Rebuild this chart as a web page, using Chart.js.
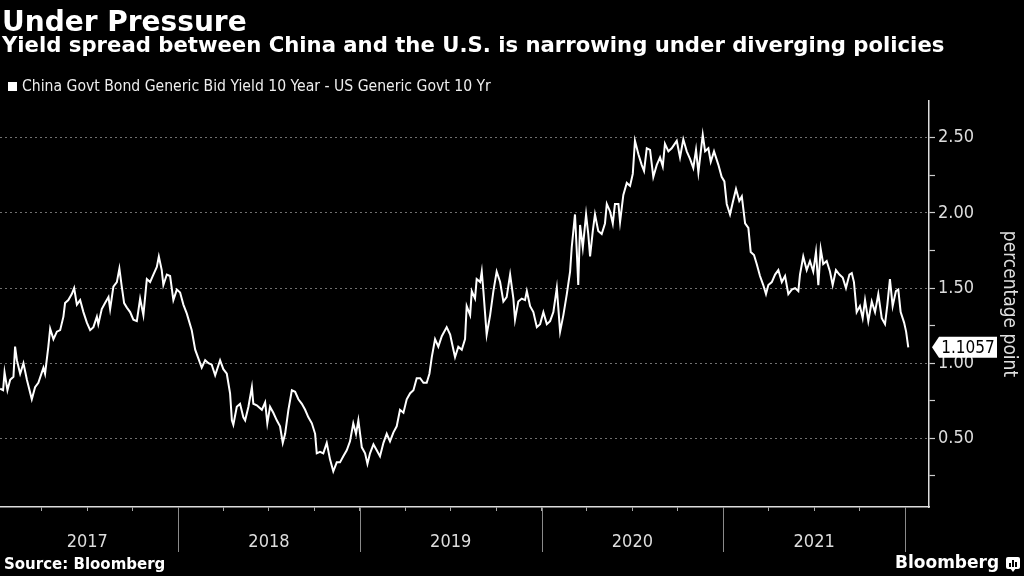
<!DOCTYPE html>
<html><head><meta charset="utf-8">
<script src="https://cdn.jsdelivr.net/npm/chart.js@4.4.1/dist/chart.umd.min.js"></script>
<style>
html,body{margin:0;padding:0;background:#000;width:1024px;height:576px;overflow:hidden;}
#wrap{position:relative;width:1024px;height:576px;background:#000;}
canvas{position:absolute;left:0;top:0;}
.t{position:absolute;color:#fff;white-space:nowrap;line-height:1;}
#title{left:2px;top:8px;font-weight:bold;font-size:28px;font-family:"DejaVu Sans";}
#sub{left:2px;top:34px;font-weight:bold;font-size:21.2px;font-family:"DejaVu Sans";}
#leg{left:22px;top:79px;font-size:15.6px;font-family:"DejaVu Sans Condensed";color:#eee;}
#legsq{position:absolute;left:8px;top:82px;width:9px;height:9px;background:#fff;}
#src{left:4px;top:557px;font-weight:bold;font-size:15px;font-family:"DejaVu Sans";}
#bb{left:895px;top:554px;font-weight:bold;font-size:17px;font-family:"DejaVu Sans";}
#icon{position:absolute;left:1006px;top:557px;width:14px;height:12px;background:#fff;border-radius:2px;}
#icon i{position:absolute;bottom:2px;width:2px;background:#000;}
#tail{position:absolute;left:1010px;top:568px;width:0;height:0;border-left:3px solid transparent;border-right:3px solid transparent;border-top:4px solid #fff;}
</style>
</head>
<body>
<div id="wrap">
<canvas id="c" width="1024" height="576"></canvas>
<div class="t" id="title">Under Pressure</div>
<div class="t" id="sub">Yield spread between China and the U.S. is narrowing under diverging policies</div>
<div id="legsq"></div>
<div class="t" id="leg">China Govt Bond Generic Bid Yield 10 Year - US Generic Govt 10 Yr</div>
<div class="t" id="src">Source: Bloomberg</div>
<div class="t" id="bb">Bloomberg</div>
<div id="icon"><i style="left:3px;height:4px"></i><i style="left:6px;height:7px"></i><i style="left:9px;height:5px"></i></div>
<div id="tail"></div>
</div>
<script>
// ---- data (decimal year, percentage points) ----
const dates = [
2017.021,2017.037,2017.045,2017.061,2017.076,2017.094,2017.103,2017.113,2017.131,2017.149,2017.168,2017.195,2017.213,2017.231,2017.259,2017.268,2017.286,2017.296,2017.314,2017.333,2017.351,2017.369,2017.378,2017.396,2017.415,2017.428,2017.443,2017.461,2017.479,2017.498,2017.516,2017.534,2017.553,2017.561,2017.580,2017.598,2017.617,2017.626,2017.644,2017.663,2017.677,2017.690,2017.703,2017.718,2017.736,2017.754,2017.773,2017.791,2017.809,2017.828,2017.846,2017.864,2017.883,2017.894,2017.910,2017.919,2017.938,2017.956,2017.974,2017.993,
2018.011,2018.029,2018.048,2018.075,2018.094,2018.112,2018.130,2018.149,2018.167,2018.185,2018.204,2018.231,2018.249,2018.268,2018.286,2018.296,2018.304,2018.323,2018.341,2018.359,2018.369,2018.387,2018.406,2018.414,2018.433,2018.461,2018.479,2018.491,2018.506,2018.524,2018.543,2018.561,2018.576,2018.589,2018.607,2018.626,2018.644,2018.662,2018.681,2018.699,2018.717,2018.736,2018.754,2018.763,2018.781,2018.799,2018.818,2018.836,2018.854,2018.873,2018.891,2018.909,2018.928,2018.946,2018.964,2018.979,2018.992,
2019.011,2019.029,2019.042,2019.056,2019.075,2019.093,2019.111,2019.130,2019.148,2019.166,2019.185,2019.203,2019.221,2019.240,2019.258,2019.277,2019.295,2019.313,2019.332,2019.350,2019.368,2019.383,2019.396,2019.414,2019.432,2019.451,2019.478,2019.497,2019.515,2019.524,2019.542,2019.561,2019.579,2019.588,2019.607,2019.616,2019.634,2019.643,2019.662,2019.671,2019.680,2019.698,2019.717,2019.735,2019.753,2019.772,2019.790,2019.808,2019.827,2019.845,2019.854,2019.872,2019.891,2019.909,2019.919,2019.937,2019.955,2019.974,2019.992,
2020.010,2020.029,2020.047,2020.065,2020.084,2020.102,2020.120,2020.139,2020.157,2020.166,2020.184,2020.194,2020.202,2020.212,2020.227,2020.245,2020.257,2020.267,2020.282,2020.294,2020.312,2020.331,2020.349,2020.359,2020.377,2020.392,2020.404,2020.423,2020.432,2020.450,2020.469,2020.487,2020.502,2020.514,2020.533,2020.551,2020.564,2020.579,2020.597,2020.615,2020.634,2020.652,2020.667,2020.679,2020.698,2020.716,2020.744,2020.762,2020.780,2020.799,2020.817,2020.835,2020.850,2020.863,2020.887,2020.900,2020.918,2020.931,2020.949,2020.973,2020.991,
2021.006,2021.019,2021.037,2021.052,2021.070,2021.088,2021.102,2021.120,2021.138,2021.151,2021.169,2021.184,2021.202,2021.220,2021.235,2021.248,2021.267,2021.285,2021.303,2021.322,2021.340,2021.358,2021.377,2021.395,2021.413,2021.422,2021.440,2021.459,2021.477,2021.495,2021.510,2021.523,2021.536,2021.550,2021.569,2021.587,2021.602,2021.620,2021.639,2021.657,2021.675,2021.694,2021.707,2021.719,2021.734,2021.752,2021.767,2021.780,2021.798,2021.817,2021.835,2021.853,2021.872,2021.890,2021.903,2021.917,2021.932,2021.950,2021.963,2021.976,2021.995,
2022.006,2022.018
];
const spread = [
0.83,0.82,0.94,0.82,0.89,0.91,1.11,1.02,0.93,1.00,0.89,0.76,0.84,0.87,0.97,0.93,1.11,1.23,1.16,1.21,1.22,1.31,1.40,1.42,1.46,1.50,1.39,1.42,1.34,1.27,1.22,1.24,1.31,1.26,1.36,1.40,1.44,1.36,1.51,1.54,1.63,1.51,1.40,1.37,1.34,1.29,1.28,1.43,1.32,1.56,1.54,1.59,1.64,1.71,1.62,1.52,1.59,1.58,1.42,1.49,
1.47,1.39,1.33,1.22,1.09,1.03,0.97,1.02,1.00,0.99,0.92,1.02,0.96,0.93,0.80,0.62,0.59,0.71,0.73,0.64,0.62,0.71,0.84,0.73,0.72,0.69,0.74,0.60,0.71,0.67,0.62,0.58,0.47,0.53,0.69,0.82,0.81,0.76,0.73,0.69,0.64,0.60,0.53,0.40,0.41,0.40,0.47,0.36,0.28,0.34,0.34,0.38,0.42,0.48,0.60,0.53,0.62,
0.44,0.40,0.33,0.40,0.46,0.42,0.38,0.47,0.53,0.48,0.54,0.58,0.69,0.67,0.76,0.80,0.82,0.90,0.90,0.87,0.87,0.93,1.04,1.16,1.11,1.18,1.24,1.19,1.09,1.04,1.11,1.09,1.16,1.38,1.32,1.48,1.43,1.56,1.54,1.61,1.48,1.19,1.32,1.48,1.61,1.54,1.41,1.44,1.59,1.43,1.29,1.41,1.43,1.42,1.48,1.38,1.34,1.24,1.26,
1.34,1.26,1.28,1.34,1.50,1.21,1.32,1.46,1.61,1.77,1.99,1.74,1.52,1.92,1.77,1.99,1.86,1.71,1.88,1.99,1.88,1.86,1.93,2.06,2.01,1.93,2.06,2.06,1.94,2.12,2.20,2.18,2.26,2.48,2.39,2.32,2.28,2.43,2.42,2.24,2.32,2.37,2.31,2.46,2.41,2.43,2.48,2.37,2.49,2.41,2.36,2.30,2.42,2.27,2.52,2.41,2.43,2.34,2.41,2.32,2.24,
2.21,2.06,1.99,2.07,2.16,2.08,2.11,1.93,1.90,1.74,1.72,1.66,1.58,1.52,1.46,1.52,1.54,1.59,1.62,1.54,1.58,1.46,1.49,1.50,1.48,1.59,1.71,1.62,1.68,1.61,1.74,1.52,1.76,1.66,1.68,1.61,1.52,1.62,1.59,1.57,1.50,1.59,1.60,1.54,1.34,1.38,1.30,1.42,1.28,1.41,1.34,1.46,1.30,1.26,1.39,1.56,1.38,1.48,1.49,1.34,1.27,
1.21,1.1057
];
const yearLabels = ['2017','2018','2019','2020','2021'];
const yTickValues = [0.25,0.5,0.75,1.0,1.25,1.5,1.75,2.0,2.25,2.5];
const yLabelValues = [0.5,1.0,1.5,2.0,2.5];
const lastLabel = '1.1057';
const axisTitle = 'percentage point';

const points = dates.map((d, i) => ({x: d, y: spread[i]}));
const firstYear = parseInt(yearLabels[0], 10);

const yearSeparators = {
  id: 'yearSeparators',
  afterDraw(chart) {
    const xs = chart.scales.x, ctx = chart.ctx, b = chart.chartArea.bottom;
    ctx.save();
    ctx.strokeStyle = '#8a8a8a';
    ctx.lineWidth = 1;
    for (let i = 1; i <= yearLabels.length; i++) {
      const px = Math.round(xs.getPixelForValue(firstYear + i)) + 0.5;
      ctx.beginPath();
      ctx.moveTo(px, b);
      ctx.lineTo(px, b + 45);
      ctx.stroke();
    }
    ctx.restore();
  }
};

const lastValueTag = {
  id: 'lastValueTag',
  afterDraw(chart) {
    const ys = chart.scales.y, ctx = chart.ctx;
    const py = ys.getPixelForValue(spread[spread.length - 1]);
    const tip = chart.chartArea.right + 3;
    const bx = tip + 7, bw = 58, bh = 21;
    ctx.save();
    ctx.fillStyle = '#fff';
    ctx.beginPath();
    ctx.moveTo(tip, py);
    ctx.lineTo(bx, py - bh / 2);
    ctx.lineTo(bx + bw, py - bh / 2);
    ctx.lineTo(bx + bw, py + bh / 2);
    ctx.lineTo(bx, py + bh / 2);
    ctx.closePath();
    ctx.fill();
    ctx.fillStyle = '#000';
    ctx.font = '17px "DejaVu Sans Condensed"';
    ctx.textAlign = 'center';
    ctx.textBaseline = 'middle';
    ctx.fillText(lastLabel, bx + bw / 2, py + 1);
    ctx.restore();
  }
};

const isLabelled = v => yLabelValues.some(l => Math.abs(l - v) < 1e-9);

new Chart(document.getElementById('c'), {
  type: 'line',
  data: {
    datasets: [{
      data: points,
      borderColor: '#ffffff',
      borderWidth: 2,
      pointRadius: 0,
      tension: 0,
      fill: false
    }]
  },
  options: {
    responsive: false,
    animation: false,
    layout: { padding: { top: 101, left: 0, right: 0, bottom: 0 } },
    plugins: { legend: { display: false }, tooltip: { enabled: false } },
    scales: {
      x: {
        type: 'linear',
        position: 'bottom',
        min: 2017.02,
        max: 2022.132,
        afterBuildTicks: s => {
          const t = [];
          for (let y = firstYear; y < firstYear + yearLabels.length; y++) {
            [0.25, 0.5, 0.75, 1].forEach(q => t.push({ value: y + q }));
          }
          s.ticks = t;
        },
        afterFit: s => { s.height = 69; },
        ticks: {
          autoSkip: false, maxRotation: 0, minRotation: 0,
          color: '#dddddd',
          font: { family: 'DejaVu Sans Condensed', size: 18 },
          padding: 21,
          callback: v => {
            const f = v - Math.floor(v);
            return Math.abs(f - 0.5) < 1e-6 ? yearLabels[Math.floor(v) - firstYear] : '';
          }
        },
        grid: { drawOnChartArea: false, tickLength: 4, tickColor: '#aaaaaa', tickWidth: 1, color: '#aaaaaa' },
        border: { color: '#dddddd', width: 1.5 }
      },
      y: {
        position: 'right',
        min: 0.043,
        max: 2.745,
        afterBuildTicks: s => { s.ticks = yTickValues.map(v => ({ value: v })); },
        afterFit: s => { s.width = 95; },
        ticks: {
          autoSkip: false,
          color: '#dddddd',
          font: { family: 'DejaVu Sans Condensed', size: 18 },
          padding: 3,
          callback: v => isLabelled(v) ? v.toFixed(2) : ''
        },
        grid: {
          color: c => (c.tick && isLabelled(c.tick.value)) ? '#707070' : 'rgba(0,0,0,0)',
          lineWidth: 1,
          tickLength: 6,
          tickColor: '#cccccc',
          tickWidth: 1.2
        },
        border: { color: '#dddddd', width: 1.5, dash: [2, 3] },
        title: {
          display: true,
          text: axisTitle,
          color: '#dddddd',
          font: { family: 'DejaVu Sans Condensed', size: 19 },
          padding: { top: 4, bottom: 0 }
        }
      }
    }
  },
  plugins: [yearSeparators, lastValueTag]
});
</script>
</body></html>
